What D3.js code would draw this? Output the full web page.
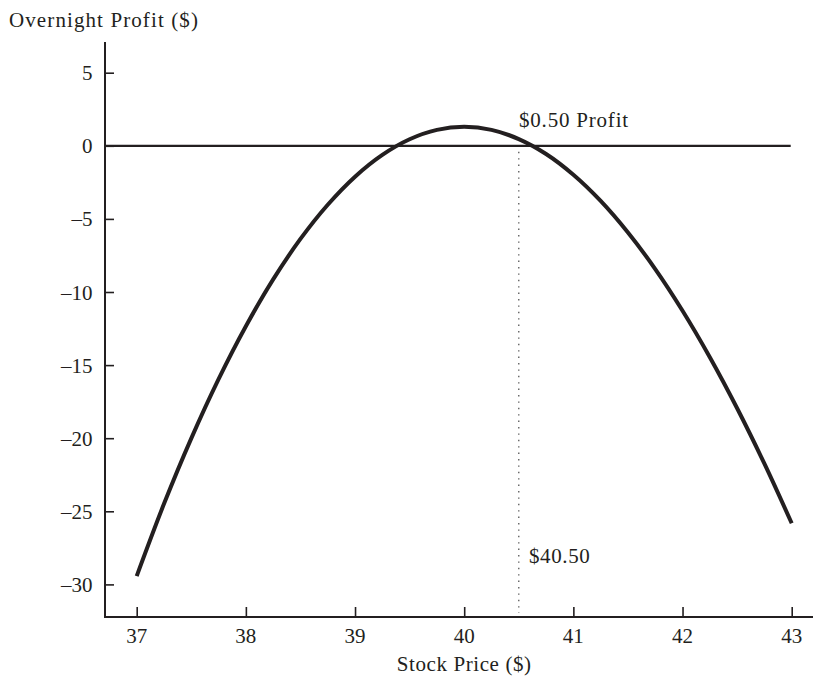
<!DOCTYPE html>
<html>
<head>
<meta charset="utf-8">
<script src="https://cdn.jsdelivr.net/npm/d3@7/dist/d3.min.js"></script>
<style>
  html, body { margin: 0; padding: 0; background: #fff; }
  svg { display: block; }
  text { font-family: "Liberation Serif", "Times New Roman", serif; fill: #231f20; }
</style>
</head>
<body>
<svg id="chart" width="813" height="677"></svg>
<script>
// ---- data ----
const stockPrice = [37.0, 37.25, 37.5, 37.75, 38.0, 38.25, 38.5, 38.75, 39.0, 39.25, 39.5, 39.75, 40.0,
                    40.25, 40.5, 40.75, 41.0, 41.25, 41.5, 41.75, 42.0, 42.25, 42.5, 42.75, 43.0];
const overnightProfit = [-29.43, -24.49, -20.01, -15.96, -12.34, -9.14, -6.37, -4.03, -2.11, -0.62, 0.45, 1.09, 1.3,
                         1.09, 0.46, -0.56, -1.98, -3.77, -5.93, -8.43, -11.28, -14.46, -17.95, -21.74, -25.82];
const xTicks = [37, 38, 39, 40, 41, 42, 43];
const yTicks = [5, 0, -5, -10, -15, -20, -25, -30];
const markerPrice = [40.5];
const labels = {
  yTitle: "Overnight Profit ($)",
  xTitle: "Stock Price ($)",
  profit: "$0.50 Profit",
  price: "$40.50"
};

// ---- drawing ----
const ink = "#231f20";
const svg = d3.select("#chart");
const x = d3.scaleLinear().domain([37, 43]).range([136.7, 791.7]);
const y = d3.scaleLinear().domain([-30, 5]).range([584.4, 72.7]);
const axisX = 105, axisY = 617;
const fmt = v => (v < 0 ? "\u2013" + Math.abs(v) : String(v));

// y axis
const gy = svg.append("g").attr("transform", `translate(${axisX},0)`)
  .call(d3.axisRight(y).tickValues(yTicks).tickSize(9).tickFormat(""));
gy.select(".domain").remove();
gy.selectAll(".tick line").attr("stroke", ink).attr("stroke-width", 1.6);
svg.append("line").attr("x1", axisX).attr("x2", axisX).attr("y1", 42).attr("y2", axisY + 1)
  .attr("stroke", ink).attr("stroke-width", 2);
svg.append("g").selectAll("text").data(yTicks).join("text")
  .attr("x", 92.5).attr("y", d => y(d) + 7.5)
  .attr("text-anchor", "end").attr("font-size", 21)
  .text(fmt);

// x axis
const gx = svg.append("g").attr("transform", `translate(0,${axisY})`)
  .call(d3.axisTop(x).tickValues(xTicks).tickSize(10).tickFormat(""));
gx.select(".domain").remove();
gx.selectAll(".tick line").attr("stroke", ink).attr("stroke-width", 1.6);
svg.append("line").attr("x1", axisX).attr("x2", 813).attr("y1", axisY).attr("y2", axisY)
  .attr("stroke", ink).attr("stroke-width", 2);
svg.append("g").selectAll("text").data(xTicks).join("text")
  .attr("x", d => x(d)).attr("y", 642.5)
  .attr("text-anchor", "middle").attr("font-size", 21)
  .text(d => String(d));

// zero line
svg.append("line").attr("x1", axisX).attr("x2", x(43) - 1).attr("y1", y(0)).attr("y2", y(0))
  .attr("stroke", ink).attr("stroke-width", 2.2);

// dotted marker
svg.selectAll(".marker").data(markerPrice).join("line").attr("class", "marker")
  .attr("x1", d => x(d)).attr("x2", d => x(d))
  .attr("y1", y(0) + 6).attr("y2", axisY - 4)
  .attr("stroke", "#555").attr("stroke-width", 1.3).attr("stroke-dasharray", "1.4,5");

// curve
const pts = stockPrice.map((s, i) => [s, overnightProfit[i]]);
svg.append("path").datum(pts)
  .attr("fill", "none").attr("stroke", ink).attr("stroke-width", 4)
  .attr("d", d3.line().x(d => x(d[0])).y(d => y(d[1])).curve(d3.curveCatmullRom.alpha(0.5)));

// titles and annotations
svg.append("text").attr("x", 9).attr("y", 27).attr("font-size", 21).attr("letter-spacing", 1.1)
  .text(labels.yTitle);
svg.append("text").attr("x", x(40)).attr("y", 671).attr("font-size", 21).attr("letter-spacing", 0.6)
  .attr("text-anchor", "middle").text(labels.xTitle);
svg.append("text").attr("x", 519).attr("y", 126.5).attr("font-size", 21).attr("letter-spacing", 0.8)
  .text(labels.profit);
svg.append("text").attr("x", 529).attr("y", 562.5).attr("font-size", 21).attr("letter-spacing", 0.6)
  .text(labels.price);
</script>
</body>
</html>
